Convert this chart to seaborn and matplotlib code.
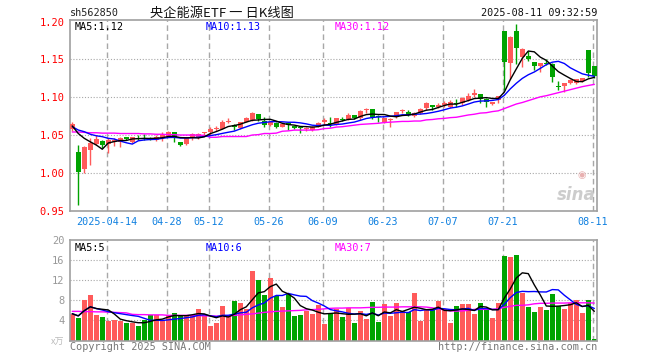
import numpy as np
import pandas as pd
import matplotlib
matplotlib.use('Agg')
import matplotlib.pyplot as plt
import seaborn as sns

# --- data (sh562850, daily K) ---
opens = [1.0575, 1.0279, 1.0045, 1.030, 1.0377, 1.042, 1.038, 1.0405, 1.041, 1.047,
         1.041, 1.046, 1.046, 1.0465, 1.044, 1.046, 1.049, 1.0535, 1.0405, 1.0382,
         1.0456, 1.047, 1.0525, 1.0535, 1.058, 1.058, 1.067, 1.0632, 1.059, 1.0676,
         1.0698, 1.0778, 1.069, 1.0632, 1.0655, 1.061, 1.0655, 1.062, 1.061, 1.0575,
         1.0566, 1.061, 1.0676, 1.0665, 1.0642, 1.0712, 1.0712, 1.0765, 1.0729, 1.0835,
         1.0843, 1.0745, 1.0668, 1.0705, 1.0732, 1.0815, 1.0808, 1.0751, 1.0787, 1.0853,
         1.0897, 1.0875, 1.0897, 1.0875, 1.092, 1.092, 1.0966, 1.1029, 1.1042, 1.0972,
         1.0915, 1.0963, 1.1876, 1.1448, 1.1876, 1.1528, 1.155, 1.1462, 1.1417, 1.1448,
         1.1435, 1.1144, 1.1148, 1.1184, 1.1193, 1.1218, 1.1624, 1.1413]
highs = [1.0676, 1.0368, 1.036, 1.0456, 1.050, 1.043, 1.0456, 1.0456, 1.047, 1.048,
         1.048, 1.050, 1.052, 1.0475, 1.050, 1.054, 1.0555, 1.054, 1.041, 1.046,
         1.0522, 1.053, 1.0545, 1.060, 1.062, 1.0695, 1.0722, 1.065, 1.0675, 1.0737,
         1.0808, 1.078, 1.0738, 1.068, 1.067, 1.065, 1.066, 1.0625, 1.0615, 1.060,
         1.0615, 1.067, 1.0725, 1.0742, 1.0725, 1.0738, 1.0795, 1.077, 1.0825, 1.086,
         1.085, 1.0765, 1.073, 1.072, 1.080, 1.0845, 1.0825, 1.0805, 1.0855, 1.0935,
         1.090, 1.0926, 1.0948, 1.096, 1.097, 1.100, 1.106, 1.1111, 1.1045, 1.0985,
         1.094, 1.102, 1.1876, 1.1815, 1.1965, 1.165, 1.1613, 1.1465, 1.145, 1.1506,
         1.145, 1.121, 1.119, 1.1235, 1.124, 1.1255, 1.1624, 1.1413]
lows = [1.0553, 0.9574, 0.9993, 1.010, 1.037, 1.0324, 1.0266, 1.0354, 1.0345, 1.044,
        1.040, 1.044, 1.043, 1.044, 1.042, 1.042, 1.048, 1.041, 1.036, 1.037,
        1.044, 1.045, 1.050, 1.050, 1.055, 1.058, 1.0655, 1.057, 1.058, 1.067,
        1.069, 1.0686, 1.0605, 1.0618, 1.0588, 1.060, 1.0566, 1.0575, 1.0531, 1.0555,
        1.0555, 1.0605, 1.0636, 1.061, 1.0628, 1.068, 1.070, 1.071, 1.0695, 1.079,
        1.0715, 1.0676, 1.066, 1.061, 1.072, 1.079, 1.075, 1.0738, 1.078, 1.0831,
        1.0831, 1.0853, 1.0875, 1.0853, 1.0875, 1.0897, 1.0948, 1.1007, 1.092, 1.0875,
        1.0897, 1.0927, 1.110, 1.1237, 1.1441, 1.1394, 1.1475, 1.136, 1.1334, 1.142,
        1.1197, 1.109, 1.1074, 1.117, 1.117, 1.120, 1.1263, 1.125]
closes = [1.0646, 1.0015, 1.034, 1.039, 1.0447, 1.0368, 1.043, 1.043, 1.046, 1.045,
          1.047, 1.045, 1.045, 1.045, 1.047, 1.050, 1.0535, 1.0455, 1.037, 1.0456,
          1.051, 1.0513, 1.0535, 1.058, 1.059, 1.0668, 1.069, 1.060, 1.0668, 1.0729,
          1.0787, 1.0712, 1.0635, 1.0676, 1.061, 1.0642, 1.063, 1.0597, 1.0589, 1.0597,
          1.061, 1.0663, 1.0698, 1.0645, 1.072, 1.0705, 1.0765, 1.072, 1.0817, 1.0843,
          1.0742, 1.0735, 1.072, 1.0712, 1.0798, 1.0825, 1.0765, 1.0787, 1.0843, 1.0919,
          1.0875, 1.0897, 1.0919, 1.094, 1.091, 1.0993, 1.1016, 1.1052, 1.0972, 1.094,
          1.0937, 1.1016, 1.147, 1.180, 1.1647, 1.1638, 1.150, 1.1417, 1.1448, 1.1435,
          1.1263, 1.1131, 1.1184, 1.1228, 1.1237, 1.125, 1.1316, 1.128]
volumes = [5.33, 4.47, 8.0, 9.0, 5.0, 4.6, 3.8, 4.0, 3.87, 3.47,
           3.47, 2.87, 4.0, 5.13, 5.13, 4.13, 5.0, 5.47, 5.0, 5.13,
           5.0, 6.2, 5.13, 2.87, 3.47, 6.8, 5.13, 7.8, 7.47, 6.33,
           13.8, 12.0, 9.0, 12.47, 8.87, 6.67, 9.33, 4.87, 5.0, 5.8,
           5.33, 7.13, 3.27, 5.33, 6.33, 4.6, 6.53, 3.4, 5.8, 4.2,
           7.6, 3.6, 7.2, 4.87, 7.4, 5.8, 5.67, 9.4, 3.8, 6.0,
           6.2, 7.8, 6.2, 3.4, 6.8, 7.2, 7.2, 5.27, 7.4, 6.2,
           4.4, 7.4, 16.8, 16.6, 17.0, 9.53, 6.6, 5.6, 6.6, 6.0,
           9.2, 6.8, 6.2, 7.4, 8.0, 5.4, 8.0, 0.2]
# MA30 lines as drawn (they need history before the first candle)
ma30_price = [1.054, 1.054, 1.0535, 1.053, 1.053, 1.0525, 1.0525, 1.0525, 1.052, 1.052,
              1.052, 1.052, 1.0515, 1.0515, 1.051, 1.051, 1.0505, 1.0505, 1.050, 1.050,
              1.050, 1.050, 1.0495, 1.047, 1.047, 1.048, 1.048, 1.048, 1.048, 1.048,
              1.050, 1.0505, 1.052, 1.052, 1.0525, 1.055, 1.0555, 1.0565, 1.0565, 1.0565,
              1.0565, 1.057, 1.0585, 1.059, 1.0605, 1.061, 1.062, 1.063, 1.064, 1.0645,
              1.065, 1.0655, 1.0665, 1.067, 1.0675, 1.068, 1.068, 1.0685, 1.0685, 1.070,
              1.0705, 1.0715, 1.072, 1.073, 1.0735, 1.075, 1.0765, 1.0775, 1.079, 1.0795,
              1.081, 1.082, 1.085, 1.088, 1.091, 1.093, 1.0955, 1.098, 1.1005, 1.102,
              1.104, 1.106, 1.108, 1.110, 1.112, 1.114, 1.1155, 1.117]
ma30_vol = [5.8, 5.8, 5.75, 5.75, 5.7, 5.7, 5.65, 5.6, 5.55, 5.5,
            5.2, 5.15, 5.15, 5.1, 5.1, 5.1, 5.0, 5.0, 5.0, 5.0,
            5.0, 4.95, 4.9, 4.9, 4.85, 4.85, 4.9, 5.0, 5.1, 5.2,
            5.3, 5.45, 5.6, 5.7, 5.8, 5.85, 5.9, 5.95, 6.0, 6.1,
            6.15, 6.2, 6.3, 6.4, 6.45, 6.45, 6.5, 6.5, 6.5, 6.55,
            6.6, 6.6, 6.65, 6.65, 6.65, 6.7, 6.7, 6.7, 6.7, 6.65,
            6.5, 6.3, 6.1, 5.9, 5.85, 5.9, 6.0, 6.2, 6.2, 6.2,
            6.2, 6.3, 6.6, 6.8, 7.0, 7.0, 7.1, 7.3, 7.4, 7.4,
            7.45, 7.45, 7.45, 7.5, 7.5, 7.5, 7.5, 7.45]
# first MA5 / MA10 points as drawn (warm-up before the first candle)
ma5_head = [1.062, 1.052, 1.0456, 1.041]
ma10_head = [1.061, 1.0566, 1.0544, 1.051, 1.049, 1.0478, 1.0456, 1.0447, 1.042]

holidays = ['2025-04-04', '2025-05-01', '2025-05-02', '2025-05-05', '2025-06-02']
tick_dates = ['2025-04-14', '2025-04-28', '2025-05-12', '2025-05-26', '2025-06-09',
              '2025-06-23', '2025-07-07', '2025-07-21', '2025-08-11']
price_ticks = [0.95, 1.00, 1.05, 1.10, 1.15, 1.20]
vol_ticks = [4, 8, 12, 16, 20]

RED = '#ff5a5a'
GREEN = '#00a300'
GRID = '#a8a8a8'
FRAME = '#a0a0a0'
MONO = ['DejaVu Sans Mono', 'Noto Sans CJK SC']
CJK = ['Noto Sans CJK SC', 'DejaVu Sans']

sns.set_style('white')
plt.rcParams['font.family'] = MONO

days = pd.bdate_range('2025-04-03', '2025-08-11')
days = days[~days.isin(pd.to_datetime(holidays))]
df = pd.DataFrame({'date': days, 'open': opens, 'high': highs, 'low': lows,
                   'close': closes, 'vol': volumes,
                   'ma30': ma30_price, 'vma30': ma30_vol})
df['i'] = np.arange(len(df))
df['dir'] = np.where(df['close'] >= df['open'], 'up', 'down')
df['ma5'] = df['close'].rolling(5, min_periods=1).mean()
df['ma10'] = df['close'].rolling(10, min_periods=1).mean()
df.loc[:len(ma5_head) - 1, 'ma5'] = ma5_head
df.loc[:len(ma10_head) - 1, 'ma10'] = ma10_head
df['vma5'] = df['vol'].rolling(5, min_periods=1).mean()
df['vma10'] = df['vol'].rolling(10, min_periods=1).mean()
colors = {'up': RED, 'down': GREEN}

W, H = 660, 360
fig = plt.figure(figsize=(6.6, 3.6), dpi=100)
ax = fig.add_axes([70 / W, 1 - 211 / H, 527 / W, 191.5 / H])
axv = fig.add_axes([70 / W, 1 - 340.5 / H, 527 / W, 100.5 / H])

xlim = (-0.38, len(df) - 0.55)
tick_pos = [df.index[df['date'] == pd.Timestamp(d)][0] - 0.27 for d in tick_dates]
tick_lab = [tick_dates[0]] + [d[5:] for d in tick_dates[1:]]

# --- price panel ---
for y in price_ticks[1:-1]:
    ax.axhline(y, color=GRID, lw=0.8, ls=(0, (1, 1.6)), zorder=0)
for p in tick_pos:
    ax.axvline(p, color=GRID, lw=1.0, ls=(0, (4, 2.5)), zorder=0)

body_lo = df[['open', 'close']].min(axis=1)
body_h = (df['close'] - df['open']).abs().clip(lower=0.0007)
cc = df['dir'].map(colors)
ax.vlines(df['i'], df['low'], df['high'], colors=cc, lw=1.0, zorder=2)
ax.bar(df['i'], body_h, bottom=body_lo, width=0.8, color=cc, lw=0, zorder=3)

sns.lineplot(data=df, x='i', y='ma30', color='#ff00ff', lw=1.0, ax=ax, zorder=4)
sns.lineplot(data=df, x='i', y='ma10', color='#0000ff', lw=1.0, ax=ax, zorder=4)
sns.lineplot(data=df, x='i', y='ma5', color='black', lw=1.0, ax=ax, zorder=5)

ax.set_xlim(*xlim)
ax.set_ylim(0.9495, 1.2028)
ax.set_yticks(price_ticks)
ax.set_yticklabels([f'{v:.2f}' for v in price_ticks], color='red', fontsize=7.5)
ax.set_xticks(tick_pos)
ax.set_xticklabels(tick_lab, color='#1080e0', fontsize=7.3)
ax.tick_params(length=0, pad=4)
ax.set_xlabel('')
ax.set_ylabel('')

ax.text(0.008, 0.985, 'MA5:1.12', transform=ax.transAxes, fontsize=7.3, color='black', va='top')
ax.text(0.257, 0.985, 'MA10:1.13', transform=ax.transAxes, fontsize=7.3, color='#0000ff', va='top')
ax.text(0.503, 0.985, 'MA30:1.12', transform=ax.transAxes, fontsize=7.3, color='#ff00ff', va='top')
# sina watermark
ax.text(0.997, 0.035, 'sina', transform=ax.transAxes, fontsize=12, color='#cccccc',
        ha='right', va='bottom', family='DejaVu Sans', fontweight='bold', style='italic')
ax.text(0.972, 0.16, '◉', transform=ax.transAxes, fontsize=7, color='#e8b0b0',
        ha='center', va='bottom', family='DejaVu Sans')

# --- volume panel ---
for y in vol_ticks[:-1]:
    axv.axhline(y, color=GRID, lw=0.8, ls=(0, (1, 1.6)), zorder=0)
for p in tick_pos:
    axv.axvline(p, color=GRID, lw=1.0, ls=(0, (4, 2.5)), zorder=0)

sns.barplot(data=df, x='i', y='vol', hue='dir', palette=colors, dodge=False,
            width=0.8, saturation=1, legend=False, ax=axv, zorder=2, linewidth=0)
sns.lineplot(x=df['i'], y=df['vma30'], color='#ff00ff', lw=1.0, ax=axv, zorder=4)
sns.lineplot(x=df['i'], y=df['vma10'], color='#0000ff', lw=1.0, ax=axv, zorder=4)
sns.lineplot(x=df['i'], y=df['vma5'], color='black', lw=1.0, ax=axv, zorder=5)

axv.set_xlim(*xlim)
axv.set_ylim(0, 20)
axv.set_xticks([])
axv.set_yticks(vol_ticks)
axv.set_yticklabels([str(v) for v in vol_ticks], color='#999999', fontsize=7.5)
axv.tick_params(length=0, pad=4)
axv.set_xlabel('')
axv.set_ylabel('')

axv.text(0.008, 0.97, 'MA5:5', transform=axv.transAxes, fontsize=7.3, color='black', va='top')
axv.text(0.257, 0.97, 'MA10:6', transform=axv.transAxes, fontsize=7.3, color='#0000ff', va='top')
axv.text(0.503, 0.97, 'MA30:7', transform=axv.transAxes, fontsize=7.3, color='#ff00ff', va='top')

for a in (ax, axv):
    for s in a.spines.values():
        s.set_color(FRAME)
        s.set_linewidth(1.2)

# --- header / footer text ---
fig.text(70 / W, 1 - 13 / H, 'sh562850', fontsize=7.3, color='#222222', va='center')
fig.text(150 / W, 1 - 13 / H, '央企能源ETF 一 日K线图', fontsize=9.5, color='#111111',
         va='center', family=CJK)
fig.text(597 / W, 1 - 13 / H, '2025-08-11 09:32:59', fontsize=7.3, color='#111111',
         va='center', ha='right')
fig.text(64 / W, 1 - 342 / H, 'x万', fontsize=6.5, color='#bbbbbb', va='center',
         ha='right', family=CJK)
fig.text(70 / W, 1 - 347 / H, 'Copyright 2025 SINA.COM', fontsize=7.3, color='#777777', va='center')
fig.text(597 / W, 1 - 347 / H, 'http://finance.sina.com.cn', fontsize=7.3, color='#777777',
         va='center', ha='right')

fig.savefig('out.png', dpi=100, facecolor='white')
